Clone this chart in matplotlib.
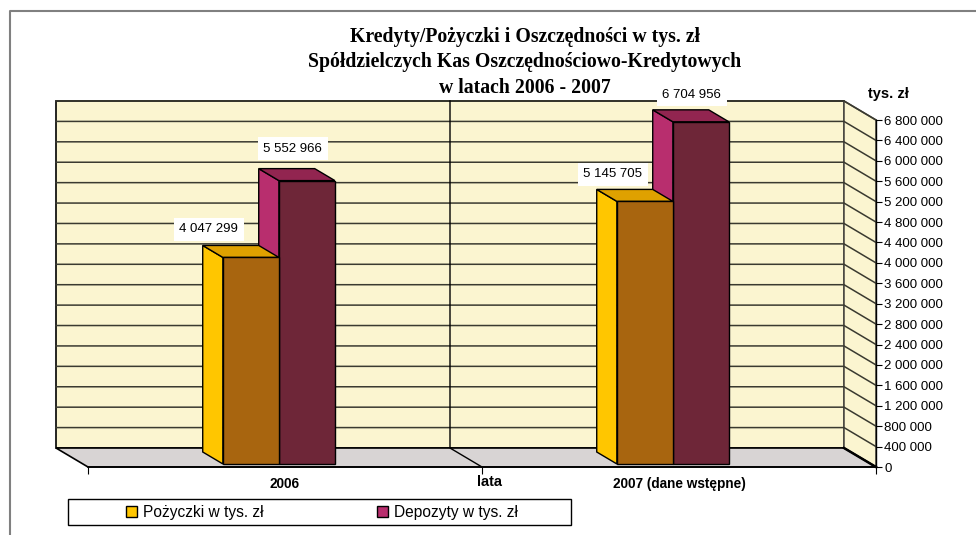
import matplotlib
matplotlib.use('Agg')
import matplotlib.pyplot as plt
from matplotlib.patches import Patch, Rectangle
from matplotlib.lines import Line2D

years = ['2006', '2007 (dane wstępne)']
pozyczki = [4047299, 5145705]
depozyty = [5552966, 6704956]
y_ticks = [0, 400000, 800000, 1200000, 1600000, 2000000, 2400000, 2800000, 3200000,
           3600000, 4000000, 4400000, 4800000, 5200000, 5600000, 6000000, 6400000, 6800000]
series_names = ['Pożyczki w tys. zł', 'Depozyty w tys. zł']
title_lines = ['Kredyty/Pożyczki i Oszczędności w tys. zł',
               'Spółdzielczych Kas Oszczędnościowo-Kredytowych',
               'w latach 2006 - 2007']

Y_MAX = 6800000
W, H = 976, 535

# fake 3d depth, in data units (32 px left, 19 px up at the back wall)
DX = 32 / 394
DY = 19 / 347 * Y_MAX
BAR_W = 56 / 394
BAR_SHIFT = -1 / 394
D_FRONT, D_BACK = 0.16, 0.79

ORANGE = ('#A8650F', '#DFA100', '#FFC600')
PLUM = ('#6E2638', '#922550', '#B82E6E')
GRID = '#3A3A30'


def at(x, y, d):
    return x - d * DX, y + d * DY


def poly(ax, pts, color, z, edge='black', lw=1.0):
    xs, ys = zip(*pts)
    ax.fill(xs, ys, facecolor=color, edgecolor=edge, linewidth=lw, zorder=z, clip_on=False)


def bar3d(ax, left, value, colors, z):
    front, top, side = colors
    right = left + BAR_W
    poly(ax, [at(left, value, D_FRONT), at(left, value, D_BACK),
              at(left, 0, D_BACK), at(left, 0, D_FRONT)], side, z)
    poly(ax, [at(left, value, D_FRONT), at(right, value, D_FRONT),
              at(right, value, D_BACK), at(left, value, D_BACK)], top, z)
    poly(ax, [at(left, 0, D_FRONT), at(right, 0, D_FRONT),
              at(right, value, D_FRONT), at(left, value, D_FRONT)], front, z + 0.1)


fig = plt.figure(figsize=(W / 100, H / 100), dpi=100)
ax = fig.add_axes([88 / W, (H - 467) / H, 788 / W, 347 / H])
ax.patch.set_alpha(0)
ax.set_xlim(0, 2)
ax.set_ylim(0, Y_MAX)

# walls and floor
poly(ax, [at(0, 0, 1), at(2, 0, 1), at(2, Y_MAX, 1), at(0, Y_MAX, 1)], '#FBF5D0', 1, lw=1.2)
poly(ax, [at(2, 0, 1), at(2, 0, 0), at(2, Y_MAX, 0), at(2, Y_MAX, 1)], '#FBF5D0', 1, edge='#55524A', lw=1.2)
poly(ax, [at(0, 0, 1), at(2, 0, 1), at(2, 0, 0), at(0, 0, 0)], '#D8D4D4', 1.5, lw=1.2)

for t in y_ticks[1:]:
    ax.plot(*zip(at(0, t, 1), at(2, t, 1), at(2, t, 0)), color=GRID, lw=1.1, zorder=2, clip_on=False)
ax.plot(*zip(at(1, Y_MAX, 1), at(1, 0, 1), at(1, 0, 0)), color='black', lw=1.0, zorder=2, clip_on=False)
ax.plot(*zip(at(2, 0, 1), at(2, 0, 0)), color='black', lw=1.8, zorder=2, clip_on=False)

# bars
label_offsets = [[(-42, 28), (-14, 32)], [(-32, 27), (-9, 27)]]
for i in range(len(years)):
    center = i + 0.5 + BAR_SHIFT
    bar3d(ax, center - BAR_W, pozyczki[i], ORANGE, 4)
    bar3d(ax, center, depozyty[i], PLUM, 3)
    for k, (val, sign) in enumerate([(pozyczki[i], -1), (depozyty[i], 1)]):
        lx = at(center + sign * BAR_W / 2, 0, D_FRONT)[0]
        ly = at(0, val, D_FRONT)[1]
        ax.annotate(f'{val:,}'.replace(',', ' '), (lx, ly), xytext=label_offsets[i][k],
                    textcoords='offset pixels', ha='center', va='center', fontsize=9.5,
                    family='Liberation Sans', zorder=6, annotation_clip=False,
                    bbox=dict(facecolor='white', edgecolor='none', pad=4))

# axes
for s in ['top', 'left']:
    ax.spines[s].set_visible(False)
ax.spines['right'].set_linewidth(1.0)
ax.spines['bottom'].set_linewidth(1.2)
ax.spines['bottom'].set_zorder(2.5)
ax.yaxis.tick_right()
ax.set_yticks(y_ticks)
ax.set_yticklabels([f'{t:,}'.replace(',', ' ') for t in y_ticks], fontsize=9.5, family='Liberation Sans')
ax.tick_params(axis='y', length=4, width=0.8, pad=2)
ax.set_xticks([0, 1, 2])
ax.set_xticklabels([])
ax.tick_params(axis='x', length=5, width=0.8)
ax.set_xticks([0.5, 1.5], minor=True)
ax.set_xticklabels(years, minor=True, fontsize=9.8, fontweight='bold', family='Liberation Sans')
ax.tick_params(axis='x', which='minor', length=0, pad=7)

fig.text(489 / W, 1 - 482 / H, 'lata', ha='center', va='center', fontsize=10.5,
         fontweight='bold', family='Liberation Sans')
fig.text(888 / W, 1 - 94 / H, 'tys. zł', ha='center', va='center', fontsize=10.5,
         fontweight='bold', family='Liberation Sans')
for line, py in zip(title_lines, [37, 62, 88]):
    fig.text(525 / W, 1 - py / H, line, ha='center', va='center', fontsize=14.2,
             fontweight='bold', family='Liberation Serif')

# page frame
fig.add_artist(Line2D([10 / W, 10 / W, 1], [0, 1 - 11 / H, 1 - 11 / H], color='#808080', lw=1.5))

# legend
fig.add_artist(Rectangle((68 / W, 1 - 525 / H), 503 / W, 26 / H, transform=fig.transFigure,
                         facecolor='white', edgecolor='black', lw=1.0))
handles = [Patch(facecolor=ORANGE[2], edgecolor='black', label=series_names[0]),
           Patch(facecolor=PLUM[2], edgecolor='black', label=series_names[1])]
fig.legend(handles=handles, ncol=2, frameon=False, loc='center', bbox_to_anchor=(322 / W, 1 - 512 / H),
           prop={'family': 'Liberation Sans', 'size': 11.2}, handlelength=0.7, handleheight=0.7,
           handletextpad=0.4, columnspacing=7.3)

fig.savefig('out.png', dpi=100)
